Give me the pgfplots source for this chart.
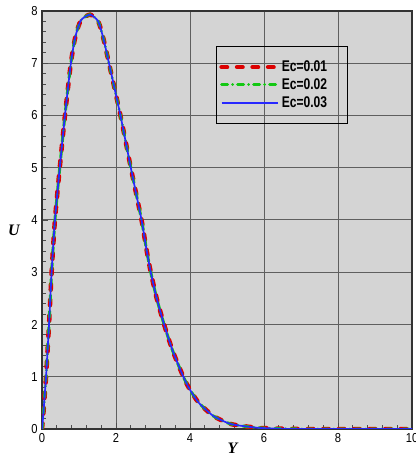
\documentclass[border=0pt]{standalone}
\usepackage{fontspec}
\setmainfont{Liberation Sans}
\newfontfamily\cond[FakeStretch=0.86]{Liberation Sans}
\newfontfamily\condb[FakeStretch=0.78]{Liberation Sans}
\newfontfamily\tms{Liberation Serif}
\usepackage{pgfplots}
\usepackage{pgfplotstable}
\pgfplotsset{compat=1.18}
\definecolor{bg}{RGB}{212,212,212}
\definecolor{gridc}{RGB}{95,95,95}
\definecolor{redc}{RGB}{220,0,0}
\definecolor{greenc}{RGB}{20,200,20}
\definecolor{bluec}{RGB}{40,40,255}
\pgfplotstableread{
Y U
0.00 0.00
0.02 0.15
0.04 0.32
0.07 0.62
0.11 1.00
0.15 1.50
0.19 2.00
0.26 3.00
0.35 4.00
0.48 5.00
0.62 6.00
0.78 7.00
0.90 7.50
1.05 7.82
1.30 7.93
1.52 7.80
1.66 7.47
1.81 7.00
2.12 6.00
2.40 5.00
2.69 4.00
2.82 3.45
2.94 3.00
3.10 2.50
3.30 2.00
3.53 1.50
3.82 1.00
4.00 0.75
4.24 0.50
4.63 0.25
5.08 0.10
5.50 0.05
5.90 0.02
6.50 0.005
7.00 0.00
10.00 0.00
}\datatab
\begin{document}
\begin{tikzpicture}
\begin{axis}[
  scale only axis,
  width=370bp, height=418bp,
  xmin=0, xmax=10, ymin=0, ymax=8,
  xtick={0,2,...,10}, ytick={0,1,...,8},
  minor x tick num=4, minor y tick num=4,
  tick pos=left, tick align=inside,
  major tick length=6bp, minor tick length=4bp,
  every tick/.style={black!70, line width=0.9bp},
  grid=major,
  major grid style={gridc, line width=1bp},
  axis background/.style={fill=bg},
  axis line style={black!80, line width=1.4bp},
  /pgf/number format/assume math mode=true,
  tick label style={font=\cond\fontsize{13bp}{15bp}\selectfont},
  xticklabel style={yshift=-1bp},
  yticklabel style={xshift=-1bp},
  xlabel={\tms\bfseries\itshape Y},
  ylabel={\tms\bfseries\itshape U},
  label style={font=\fontsize{16bp}{18bp}\selectfont},
  xlabel style={at={(axis description cs:0.515,0)}, anchor=north, yshift=-11bp},
  ylabel style={at={(axis description cs:-0.076,0.476)}, anchor=center, rotate=-90},
  legend style={at={(axis cs:4.70,7.33)}, anchor=north west,
    draw=black, line width=0.8bp, fill=none,
    font=\condb\bfseries\fontsize{15.5bp}{17bp}\selectfont,
    inner xsep=3bp, inner ysep=12.5bp, row sep=1.5bp,
    nodes={inner sep=2bp}},
  legend cell align=left,
  legend image code/.code={\draw[#1] (0bp,0bp) -- (56bp,0bp);},
]
\addplot[redc, line width=4.5bp, line cap=round, dash pattern=on 5.5bp off 10bp, smooth, tension=0.4] table[x=Y,y=U]{\datatab};
\addlegendentry{Ec=0.01\rule{15bp}{0bp}}
\addplot[greenc, line width=3bp, line cap=round, dash pattern=on 6bp off 5bp on 0.01bp off 5bp, smooth, tension=0.4] table[x=Y,y=U]{\datatab};
\addlegendentry{Ec=0.02\rule{15bp}{0bp}}
\addplot[bluec, line width=1.7bp, smooth, tension=0.4] table[x=Y,y=U]{\datatab};
\addlegendentry{Ec=0.03\rule{15bp}{0bp}}
\end{axis}
\pgfresetboundingbox
\path ([xshift=-42bp,yshift=-30bp]current axis.south west) rectangle ([xshift=3bp,yshift=11bp]current axis.north east);
\end{tikzpicture}
\end{document}
